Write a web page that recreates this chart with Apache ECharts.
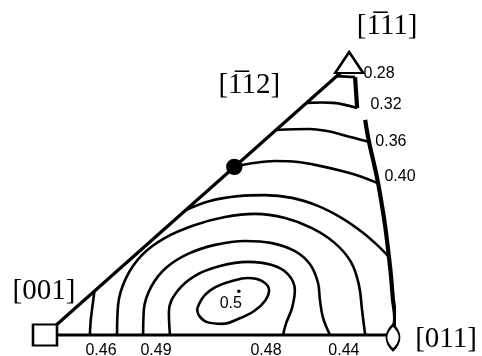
<!DOCTYPE html>
<html>
<head>
<meta charset="utf-8">
<script src="https://cdn.jsdelivr.net/npm/echarts@6/dist/echarts.min.js"></script>
<style>
  html, body { margin: 0; padding: 0; background: #fff; }
  #chart { width: 482px; height: 356px; }
</style>
</head>
<body>
<div id="chart"></div>
<script>
// triangle [001]-[011]-[-111], coordinates scaled so [001]->[011] is 0..1
var edgeBottom = [[0, 0], [1, 0]];
var edgeLeft = [[0, 0], [0.871, 0.773]];
var edgeRightTop = [[0.891, 0.741], [0.897, 0.652]];
var edgeRight = [[0.920, 0.618], [0.931, 0.555], [0.945, 0.494], [0.957, 0.437], [0.968, 0.374],
  [0.977, 0.316], [0.986, 0.244], [0.994, 0.172], [1.000, 0.101], [1.006, 0.049], [1.003, 0.020]];

// contour lines
var line028 = [[0.838, 0.744], [0.891, 0.741]];
var line032 = [[0.751, 0.667], [0.796, 0.668], [0.828, 0.667], [0.897, 0.652]];
var line036 = [[0.663, 0.589], [0.761, 0.592], [0.810, 0.586], [0.856, 0.575], [0.931, 0.555]];
var line040 = [[0.544, 0.483], [0.598, 0.494], [0.661, 0.500], [0.727, 0.497], [0.790, 0.486],
  [0.853, 0.471], [0.911, 0.454], [0.954, 0.437]];
var line044 = [[0.405, 0.359], [0.474, 0.385], [0.555, 0.399], [0.632, 0.402], [0.710, 0.394],
  [0.784, 0.371], [0.853, 0.336], [0.911, 0.296], [0.954, 0.259], [0.989, 0.224]];
var line044b = [[0.142, 0.126], [0.135, 0.072], [0.131, 0.037], [0.129, 0]];
var line046 = [[0.207, 0], [0.210, 0.086], [0.233, 0.164], [0.279, 0.230], [0.345, 0.279],
  [0.431, 0.316], [0.517, 0.339], [0.603, 0.348], [0.690, 0.336], [0.767, 0.307], [0.833, 0.264],
  [0.879, 0.210], [0.902, 0.144], [0.911, 0.072], [0.920, 0]];
var line048 = [[0.282, 0], [0.284, 0.072], [0.305, 0.138], [0.348, 0.193], [0.411, 0.233],
  [0.489, 0.259], [0.575, 0.270], [0.652, 0.264], [0.718, 0.241], [0.761, 0.204], [0.784, 0.152],
  [0.790, 0.101], [0.799, 0.049], [0.819, 0]];
var line049 = [[0.359, 0], [0.356, 0.066], [0.379, 0.124], [0.431, 0.170], [0.503, 0.198],
  [0.583, 0.210], [0.652, 0.201], [0.698, 0.175], [0.718, 0.129], [0.710, 0.078], [0.693, 0.034],
  [0.684, 0]];
var line050 = [[0.437, 0.075], [0.457, 0.112], [0.491, 0.138], [0.537, 0.155], [0.583, 0.164],
  [0.624, 0.155], [0.644, 0.129], [0.632, 0.098], [0.601, 0.069], [0.555, 0.046], [0.509, 0.032],
  [0.466, 0.037], [0.443, 0.055], [0.437, 0.075]];

// poles
var poleNames = ["[001]", "[011]", "[1\u030511]", "[1\u030512]"];
var polePos = [[0, 0], [1, -0.007], [0.874, 0.783], [0.544, 0.483]];
var maxPoint = [0.557, 0.126];

// level labels
var levelText = ["0.28", "0.32", "0.36", "0.40", "0.5", "0.46", "0.49", "0.48", "0.44"];
var levelPos = [[0.960, 0.750], [0.980, 0.661], [0.994, 0.557], [1.020, 0.454], [0.534, 0.089],
  [0.161, -0.046], [0.319, -0.046], [0.635, -0.046], [0.859, -0.046]];

var poleStyle = [
  { symbol: "rect", size: [24, 21], fill: "#fff", offset: [-1, -44] },
  { symbol: "path://M6,0 C13,8 13,17 6,25 C-1,17 -1,8 6,0 Z", size: [13, 25], fill: "#fff", offset: [53, 2] },
  { symbol: "triangle", size: [28, 21], fill: "#fff", offset: [38, -36] },
  { symbol: "circle", size: 14, fill: "#000", offset: [15, -82] },
];

function lineSeries(data, width) {
  return {
    type: "line",
    data: data,
    symbol: "none",
    smooth: 0.4,
    clip: false,
    silent: true,
    lineStyle: { color: "#000", width: width || 2.6 },
    z: 2,
  };
}

var chart = echarts.init(document.getElementById("chart"), null, { renderer: "canvas" });

var series = [
  lineSeries(edgeBottom, 3.2),
  lineSeries(edgeLeft, 3.2),
  lineSeries(edgeRightTop, 4.2),
  lineSeries(edgeRight, 4.2),
];
[line028, line032, line036, line040, line044, line044b, line046, line048, line049, line050].forEach(function (d) {
  series.push(lineSeries(d));
});

series.push({
  type: "scatter",
  clip: false,
  silent: true,
  z: 5,
  data: poleNames.map(function (name, i) {
    var s = poleStyle[i];
    return {
      name: name,
      value: polePos[i],
      symbol: s.symbol,
      symbolSize: s.size,
      itemStyle: { color: s.fill, borderColor: "#000", borderWidth: 2.4, opacity: 1 },
      label: {
        show: true,
        formatter: name,
        position: "inside",
        offset: s.offset,
        color: "#000",
        fontFamily: "Liberation Serif",
        fontSize: 29,
      },
    };
  }),
});

series.push({
  type: "scatter",
  clip: false,
  silent: true,
  z: 6,
  symbol: "circle",
  symbolSize: 3.5,
  itemStyle: { color: "#000", opacity: 1 },
  data: [maxPoint],
});

series.push({
  type: "scatter",
  clip: false,
  silent: true,
  z: 6,
  symbol: "circle",
  symbolSize: 1,
  itemStyle: { color: "rgba(0,0,0,0)", opacity: 1 },
  data: levelText.map(function (t, i) {
    return { name: t, value: levelPos[i] };
  }),
  label: {
    show: true,
    position: "inside",
    formatter: "{b}",
    color: "#000",
    fontFamily: "Liberation Sans",
    fontSize: 16,
  },
});

chart.setOption({
  backgroundColor: "#fff",
  animation: false,
  grid: { left: 45, width: 348, bottom: 21, height: 313.2 },
  xAxis: { type: "value", min: 0, max: 1, show: false },
  yAxis: { type: "value", min: 0, max: 0.9, show: false },
  series: series,
});
</script>
</body>
</html>
